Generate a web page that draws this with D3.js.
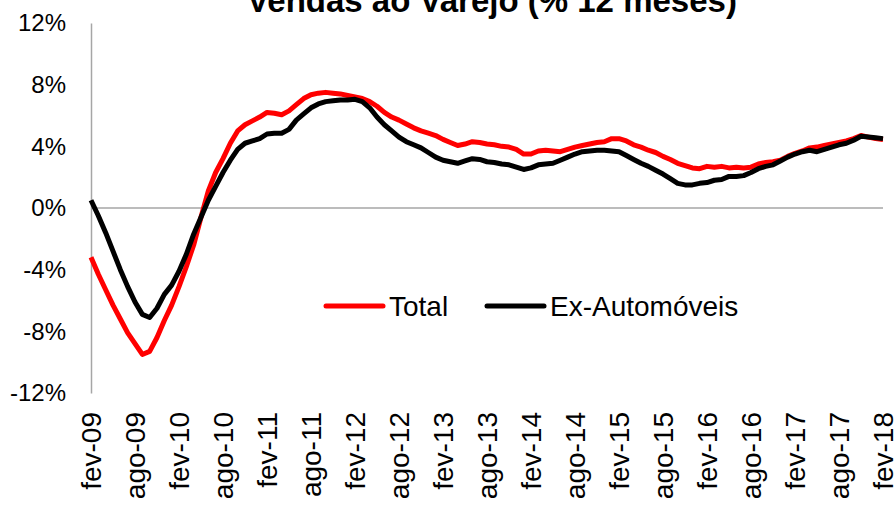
<!DOCTYPE html>
<html>
<head>
<meta charset="utf-8">
<script src="https://cdn.jsdelivr.net/npm/d3@7"></script>
<style>
  body { margin: 0; background: #fff; }
  svg { display: block; font-family: "Liberation Sans", Arial, sans-serif; }
</style>
</head>
<body>
<svg id="chart" width="895" height="507"></svg>
<script>
// month names used to build the monthly categories fev-09 .. fev-18
var monthNames = ["jan", "fev", "mar", "abr", "mai", "jun", "jul", "ago", "set", "out", "nov", "dez"];
var categories = [];
for (var i = 0; i <= 108; i++) {
  var mi = (1 + i) % 12;
  var yr = 9 + Math.floor((1 + i) / 12);
  categories.push(monthNames[mi] + "-" + (yr < 10 ? "0" + yr : yr));
}

// Total (% 12 meses)
var total = [
  -3.2, -4.3, -5.3, -6.3, -7.2, -8.1, -8.8, -9.5, -9.3, -8.4, -7.3, -6.3,
  -5.1, -3.8, -2.4, -0.6, 1.1, 2.3, 3.2, 4.2, 5.0, 5.4, 5.65, 5.9,
  6.2, 6.15, 6.05, 6.3, 6.7, 7.1, 7.35, 7.45, 7.5, 7.45, 7.4, 7.3,
  7.2, 7.1, 6.9, 6.6, 6.2, 5.9, 5.7, 5.45, 5.2, 5.0, 4.85, 4.7,
  4.45, 4.25, 4.05, 4.15, 4.3, 4.25, 4.15, 4.1, 4.0, 3.95, 3.8, 3.5,
  3.5, 3.7, 3.75, 3.7, 3.65, 3.8, 3.95, 4.05, 4.15, 4.25, 4.3, 4.5,
  4.5, 4.35, 4.1, 3.95, 3.75, 3.6, 3.35, 3.15, 2.9, 2.75, 2.6, 2.55,
  2.7, 2.65, 2.7, 2.6, 2.65, 2.6, 2.65, 2.85, 2.95, 3.0, 3.1, 3.35,
  3.55, 3.7, 3.9, 3.95, 4.05, 4.15, 4.25, 4.35, 4.5, 4.7, 4.6, 4.5,
  4.45
];

// Ex-Automóveis (% 12 meses)
var exAuto = [
  0.5, -0.5, -1.6, -2.8, -4.0, -5.1, -6.1, -6.9, -7.1, -6.5, -5.6, -5.0,
  -4.1, -3.0, -1.7, -0.6, 0.5, 1.4, 2.3, 3.1, 3.8, 4.2, 4.35, 4.5,
  4.8, 4.85, 4.85, 5.1, 5.7, 6.1, 6.5, 6.75, 6.9, 6.95, 7.0, 7.0,
  7.05, 6.9, 6.5, 5.9, 5.4, 5.0, 4.6, 4.3, 4.1, 3.9, 3.6, 3.3,
  3.1, 3.0, 2.9, 3.05, 3.2, 3.15, 3.0, 2.95, 2.85, 2.8, 2.65, 2.5,
  2.6, 2.8, 2.85, 2.9, 3.1, 3.3, 3.5, 3.65, 3.7, 3.75, 3.75, 3.7,
  3.65, 3.4, 3.15, 2.9, 2.7, 2.45, 2.2, 1.9, 1.6, 1.5, 1.5, 1.6,
  1.65, 1.8, 1.85, 2.05, 2.05, 2.1, 2.3, 2.55, 2.7, 2.8, 3.05, 3.3,
  3.5, 3.65, 3.75, 3.65, 3.8, 3.95, 4.1, 4.2, 4.4, 4.65, 4.6, 4.55,
  4.5
];

var yTicks = [-12, -8, -4, 0, 4, 8, 12];

var svg = d3.select("#chart");

// plot area in pixels
var plotLeft = 91, plotRight = 883, plotTop = 23, plotBottom = 393;

var x = d3.scalePoint()
  .domain(categories)
  .range([plotLeft, plotRight]);

var y = d3.scaleLinear()
  .domain([-12, 12])
  .range([plotBottom, plotTop]);

// title (partly cut off at the top, as in the original)
svg.append("text")
  .attr("x", 492)
  .attr("y", 12)
  .attr("text-anchor", "middle")
  .style("font-size", "33px")
  .style("font-weight", "bold")
  .text("Vendas ao Varejo (% 12 meses)");

// y axis: plain gray line and percentage labels
var yAxis = svg.append("g")
  .attr("transform", "translate(" + plotLeft + ",0)")
  .call(d3.axisLeft(y).tickValues(yTicks).tickSize(0).tickPadding(25)
    .tickFormat(function(d) { return d + "%"; }));
yAxis.select(".domain").attr("stroke", "#a6a6a6").attr("stroke-width", 1.5);
yAxis.selectAll("text")
  .style("font-size", "24px")
  .style("font-family", "Liberation Sans, Arial, sans-serif")
  .attr("fill", "#000");

// zero line
svg.append("line")
  .attr("x1", plotLeft).attr("x2", plotRight)
  .attr("y1", y(0)).attr("y2", y(0))
  .attr("stroke", "#a6a6a6")
  .attr("stroke-width", 1.5);

// x labels every 6 months, rotated
var xTicks = categories.filter(function(d, i) { return i % 6 === 0; });
var xAxis = svg.append("g")
  .attr("transform", "translate(0," + plotBottom + ")")
  .call(d3.axisBottom(x).tickValues(xTicks).tickSize(0).tickPadding(0));
xAxis.select(".domain").remove();
xAxis.selectAll("text")
  .attr("transform", "rotate(-90)")
  .attr("x", -19)
  .attr("y", 0)
  .attr("dy", "0.35em")
  .attr("text-anchor", "end")
  .style("font-size", "28px")
  .style("font-family", "Liberation Sans, Arial, sans-serif")
  .attr("fill", "#000");

var line = d3.line()
  .x(function(d, i) { return x(categories[i]); })
  .y(function(d) { return y(d); });

svg.append("path")
  .datum(total)
  .attr("fill", "none")
  .attr("stroke", "#ff0000")
  .attr("stroke-width", 5)
  .attr("stroke-linejoin", "round")
  .attr("d", line);

svg.append("path")
  .datum(exAuto)
  .attr("fill", "none")
  .attr("stroke", "#000")
  .attr("stroke-width", 5)
  .attr("stroke-linejoin", "round")
  .attr("d", line);

// legend
var legendItems = [
  {name: "Total", color: "#ff0000", x: 326},
  {name: "Ex-Automóveis", color: "#000", x: 487}
];
var legend = svg.selectAll(".legend")
  .data(legendItems)
  .enter().append("g")
  .attr("class", "legend")
  .attr("transform", function(d) { return "translate(" + d.x + ",306)"; });
legend.append("line")
  .attr("x1", 0).attr("x2", 57)
  .attr("stroke", function(d) { return d.color; })
  .attr("stroke-width", 5)
  .attr("stroke-linecap", "round");
legend.append("text")
  .attr("x", 63)
  .attr("dy", "0.35em")
  .style("font-size", "28px")
  .text(function(d) { return d.name; });
</script>
</body>
</html>
